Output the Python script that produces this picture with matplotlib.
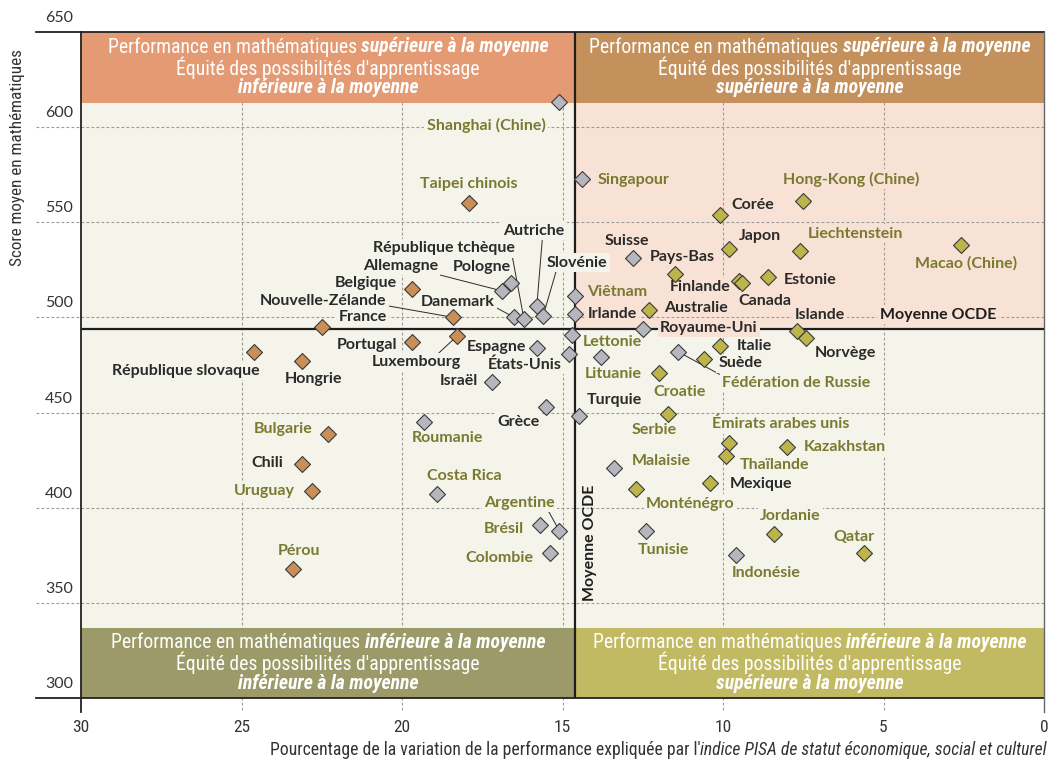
import matplotlib
matplotlib.use("Agg")
import matplotlib.pyplot as plt
import matplotlib.transforms as mtransforms
from matplotlib import font_manager as fm
from matplotlib.patches import Rectangle

# ---------------- data ----------------
countries = [
    "Shanghai (Chine)", "Singapour", "Hong-Kong (Chine)", "Taipei chinois", "Corée",
    "Macao (Chine)", "Japon", "Liechtenstein", "Suisse", "Pays-Bas",
    "Estonie", "Finlande", "Canada", "Pologne", "Belgique",
    "Allemagne", "Viêtnam", "Autriche", "Australie", "Irlande",
    "Slovénie", "Danemark", "Nouvelle-Zélande", "République tchèque", "France",
    "Royaume-Uni", "Islande", "Lettonie", "Luxembourg", "Norvège",
    "Portugal", "Italie", "Espagne", "Fédération de Russie", "République slovaque",
    "États-Unis", "Lituanie", "Suède", "Hongrie", "Croatie",
    "Israël", "Grèce", "Serbie", "Turquie", "Roumanie",
    "Bulgarie", "Émirats arabes unis", "Kazakhstan", "Thaïlande", "Chili",
    "Malaisie", "Mexique", "Monténégro", "Uruguay", "Costa Rica",
    "Brésil", "Argentine", "Tunisie", "Jordanie", "Colombie",
    "Qatar", "Indonésie", "Pérou",
]
esc_pct = [
    15.1, 14.4, 7.5, 17.9, 10.1,
    2.6, 9.8, 7.6, 12.8, 11.5,
    8.6, 9.5, 9.4, 16.6, 19.7,
    16.9, 14.6, 15.8, 12.3, 14.6,
    15.6, 16.5, 18.4, 16.2, 22.5,
    12.5, 7.7, 14.7, 18.3, 7.4,
    19.7, 10.1, 15.8, 11.4, 24.6,
    14.8, 13.8, 10.6, 23.1, 12.0,
    17.2, 15.5, 11.7, 14.5, 19.3,
    22.3, 9.8, 8.0, 9.9, 23.1,
    13.4, 10.4, 12.7, 22.8, 18.9,
    15.7, 15.1, 12.4, 8.4, 15.4,
    5.6, 9.6, 23.4,
]
math_score = [
    613, 573, 561, 560, 554,
    538, 536, 535, 531, 523,
    521, 519, 518, 518, 515,
    514, 511, 506, 504, 502,
    501, 500, 500, 499, 495,
    494, 493, 491, 490, 489,
    487, 485, 484, 482, 482,
    481, 479, 478, 477, 471,
    466, 453, 449, 448, 445,
    439, 434, 432, 427, 423,
    421, 413, 410, 409, 407,
    391, 388, 388, 386, 376,
    376, 375, 368,
]
# strength of the socio-economic gradient vs OECD average
equity_group = [
    "ns", "ns", "weak", "strong", "weak",
    "weak", "weak", "weak", "ns", "weak",
    "weak", "weak", "weak", "ns", "strong",
    "ns", "ns", "ns", "weak", "ns",
    "ns", "ns", "strong", "ns", "strong",
    "ns", "weak", "ns", "strong", "weak",
    "strong", "weak", "ns", "ns", "strong",
    "ns", "ns", "weak", "strong", "weak",
    "ns", "ns", "weak", "ns", "ns",
    "strong", "weak", "weak", "weak", "strong",
    "ns", "weak", "weak", "strong", "ns",
    "ns", "ns", "ns", "weak", "ns",
    "weak", "ns", "strong",
]
oecd_members = {
    "Corée", "Japon", "Suisse", "Pays-Bas", "Estonie", "Finlande", "Canada",
    "Pologne", "Belgique", "Allemagne", "Autriche", "Australie", "Irlande",
    "Slovénie", "Danemark", "Nouvelle-Zélande", "République tchèque", "France",
    "Royaume-Uni", "Islande", "Luxembourg", "Norvège", "Portugal", "Italie",
    "Espagne", "République slovaque", "États-Unis", "Suède", "Hongrie",
    "Israël", "Grèce", "Turquie", "Chili", "Mexique",
}
oecd_mean_score = 494
oecd_mean_esc = 14.6
x_ticks = [30, 25, 20, 15, 10, 5, 0]
y_ticks = [300, 350, 400, 450, 500, 550, 600, 650]

# ---------------- label layout (pixel offsets from marker, y down) ----------------
LAYOUT = {
    "Shanghai (Chine)": (-73, 23, None), "Singapour": (52, 1, None),
    "Hong-Kong (Chine)": (48, -22, None), "Taipei chinois": (-1, -19, None),
    "Corée": (33, -10, None), "Macao (Chine)": (6, 18, None),
    "Japon": (31, -13, None), "Liechtenstein": (55, -17, None),
    "Suisse": (-6, -17, None), "Pays-Bas": (7, -17, None),
    "Estonie": (42, 3, None), "Finlande": (-39, 6, None),
    "Canada": (23, 18, None), "Pologne": (-29, -16, None),
    "Belgique": (-46, -6, None), "Allemagne": (-101, -25, (0.91, 0.0)),
    "Viêtnam": (42, -4, None), "Autriche": (-3, -75, (0.64, 0.0)),
    "Australie": (47, -2, None), "Irlande": (37, 0, None),
    "Slovénie": (34, -53, (0.16, 0.0)), "Danemark": (-57, -15, (1.0, 0.2)),
    "Nouvelle-Zélande": (-130, -16, (1.0, 0.2)),
    "République tchèque": (-80, -71, (0.98, 0.0)),
    "France": (41, -10, None), "Royaume-Uni": (66, -1, None),
    "Islande": (23, -16, None), "Lettonie": (40, 7, None),
    "Luxembourg": (-40, 26, (0.72, 1.0)), "Norvège": (39, 15, None),
    "Portugal": (-45, 3, None), "Italie": (35, 0, None),
    "Espagne": (-40, -1, None), "Fédération de Russie": (118, 31, (0.0, 1.0)),
    "République slovaque": (-69, 19, None), "États-Unis": (-44, 11, None),
    "Lituanie": (12, 17, None), "Suède": (37, 4, None),
    "Hongrie": (11, 18, None), "Croatie": (21, 19, None),
    "Israël": (-33, -1, None), "Grèce": (-28, 15, None),
    "Serbie": (-14, 16, None), "Turquie": (36, -16, None),
    "Roumanie": (23, 16, None), "Bulgarie": (-45, -5, None),
    "Émirats arabes unis": (51, -19, None), "Kazakhstan": (58, 0, None),
    "Thaïlande": (48, 9, None), "Chili": (-35, -1, None),
    "Malaisie": (47, -7, None), "Mexique": (51, 1, None),
    "Monténégro": (54, 15, None), "Uruguay": (-48, 0, None),
    "Costa Rica": (27, -18, None), "Brésil": (-36, 4, None),
    "Argentine": (-40, -28, (0.9, 0.0)), "Tunisie": (17, 19, None),
    "Jordanie": (16, -18, None), "Colombie": (-50, 5, None),
    "Qatar": (-10, -16, None), "Indonésie": (30, 18, None),
    "Pérou": (6, -18, None),
}

# ---------------- styles ----------------
CREAM = "#F4F4EA"
PINK = "#F8E2D6"
BAND_TL, BAND_TR = "#E49A73", "#C4915C"
BAND_BL, BAND_BR = "#9B9A68", "#C2BA62"
MK = {"strong": "#C98F57", "ns": "#B6B7BE", "weak": "#BDB54B"}
TXT_DARK = "#2A2A2A"
TXT_OLIVE = "#7A7930"
GRID = "#9A9A9A"

names = {f.name for f in fm.fontManager.ttflist}
COND = None
for cand in ["Liberation Sans Narrow", "Roboto Condensed", "Open Sans Condensed",
             "Noto Sans Condensed", "DejaVu Sans Condensed"]:
    if cand in names:
        COND = dict(family=cand)
        break
if COND is None:
    if any(f.name == "DejaVu Sans" and "condensed" in str(f.stretch) for f in fm.fontManager.ttflist):
        COND = dict(family="DejaVu Sans", stretch="condensed")
    else:
        COND = dict(family="DejaVu Sans")
LABEL_FONT = dict(family="Lato", weight="bold", size=11.5)

W, H = 1049, 761
fig = plt.figure(figsize=(W / 100, H / 100), dpi=100)
fig.patch.set_facecolor("white")
ax = fig.add_axes([81 / W, 1 - 698 / H, (1044 - 81) / W, (698 - 32) / H])
ax.set_xlim(30, 0)
ax.set_ylim(300, 650)
ax.axis("off")

px_per_y = 666 / 350.0
band_top = 650 - 71 / px_per_y
band_bot = 300 + 70 / px_per_y

# backgrounds
ax.add_patch(Rectangle((0, 300), 30, 350, fc=CREAM, ec="none", zorder=0))
ax.add_patch(Rectangle((0, oecd_mean_score), oecd_mean_esc, band_top - oecd_mean_score,
                       fc=PINK, ec="none", zorder=0.5))

# gridlines
for v in y_ticks[1:-1]:
    ax.plot([-45 / 963, 1], [v, v], transform=ax.get_yaxis_transform(), color=GRID,
            lw=0.8, dashes=(2.5, 2), clip_on=False, zorder=1)
for v in x_ticks[1:-1]:
    ax.plot([v, v], [-12 / 666, 1], transform=ax.get_xaxis_transform(), color=GRID,
            lw=0.8, dashes=(2.5, 2), clip_on=False, zorder=1)

# bands
ax.add_patch(Rectangle((oecd_mean_esc, band_top), 30 - oecd_mean_esc, 650 - band_top, fc=BAND_TL, ec="none", zorder=2))
ax.add_patch(Rectangle((0, band_top), oecd_mean_esc, 650 - band_top, fc=BAND_TR, ec="none", zorder=2))
ax.add_patch(Rectangle((oecd_mean_esc, 300), 30 - oecd_mean_esc, band_bot - 300, fc=BAND_BL, ec="none", zorder=2))
ax.add_patch(Rectangle((0, 300), oecd_mean_esc, band_bot - 300, fc=BAND_BR, ec="none", zorder=2))

# frame
ax.plot([-45 / 963, 1], [1, 1], transform=ax.transAxes, color="#222222", lw=1.3, clip_on=False, zorder=3)
ax.plot([-45 / 963, 1], [0, 0], transform=ax.transAxes, color="#222222", lw=1.3, clip_on=False, zorder=3)
ax.plot([0, 0], [-14 / 666, 1], transform=ax.transAxes, color="#222222", lw=1.3, clip_on=False, zorder=3)
ax.plot([1, 1], [-14 / 666, 1], transform=ax.transAxes, color="#666666", lw=1.0, clip_on=False, zorder=3)

# OECD mean lines
ax.axhline(oecd_mean_score, color="#1E1E1E", lw=1.6, zorder=3)
ax.axvline(oecd_mean_esc, color="#1E1E1E", lw=1.6, zorder=3)

# tick labels
ytr = mtransforms.offset_copy(ax.get_yaxis_transform(), fig=fig, x=-8, y=14, units="dots")
for v in y_ticks:
    ax.text(0, v, str(v), transform=ytr, ha="right", va="center", fontsize=11.5,
            family="Lato", color="#333333")
for v in x_ticks:
    ax.text(v, -30 / 666, str(v), transform=ax.get_xaxis_transform(), ha="center", va="center",
            fontsize=12.5, color="#333333", clip_on=False, **COND)

# markers
for grp in ["strong", "ns", "weak"]:
    xs = [x for x, g in zip(esc_pct, equity_group) if g == grp]
    ys = [y for y, g in zip(math_score, equity_group) if g == grp]
    ax.scatter(xs, ys, marker="D", s=66, c=MK[grp], edgecolors="#3A3A3A", linewidths=0.8, zorder=6)

fig.canvas.draw()
renderer = fig.canvas.get_renderer()


def text_w(s, **kw):
    t = fig.text(0, 0, s, **kw)
    w = t.get_window_extent(renderer).width
    t.remove()
    return w


# labels
vx = ax.transData.transform((oecd_mean_esc, oecd_mean_score))
vtop = ax.transData.transform((0, band_top))[1]
for name, x, y in zip(countries, esc_pct, math_score):
    dx, dy, rel = LAYOUT[name]
    mx, my = ax.transData.transform((x, y))
    tx, ty = mx + dx, my - dy
    left = tx - text_w(name, **LABEL_FONT) / 2
    bg = PINK if (left > vx[0] and vx[1] < ty < vtop) else CREAM
    col = TXT_DARK if name in oecd_members else TXT_OLIVE
    kw = dict(xy=(x, y), xytext=(dx, -dy), textcoords="offset pixels", ha="center", va="center",
              color=col, zorder=4,
              bbox=dict(boxstyle="square,pad=0.15", fc=bg, ec="none"))
    if rel is not None:
        kw["arrowprops"] = dict(arrowstyle="-", color="#2A2A2A", lw=0.7, relpos=rel,
                                shrinkA=0, shrinkB=3)
    ax.annotate(name, **kw, **LABEL_FONT)

# OECD mean labels
ax.annotate("Moyenne OCDE", xy=(3.3, oecd_mean_score), xytext=(0, 14), textcoords="offset pixels",
            ha="center", va="center", color="#1E1E1E", zorder=4,
            bbox=dict(boxstyle="square,pad=0.15", fc=PINK, ec="none"), **LABEL_FONT)
ax.annotate("Moyenne OCDE", xy=(oecd_mean_esc, 381.5), xytext=(15, 0), textcoords="offset pixels",
            ha="center", va="center", rotation=90, color="#1E1E1E", zorder=4, **LABEL_FONT)


def mixed_line(parts, cx, cy, color, size, align="center", sep=True):
    # parts: list of (string, style) ; cx, cy in display pixels
    widths = [text_w(s, fontsize=size, **COND, **st) for s, st in parts]
    sp = (text_w("x x", fontsize=size, **COND) - text_w("xx", fontsize=size, **COND)) if sep else 0
    total = sum(widths) + sp * (len(parts) - 1)
    x0 = cx - total / 2 if align == "center" else cx - total
    for (s, st), w in zip(parts, widths):
        fig.text(x0 / W, cy / H, s, ha="left", va="center", fontsize=size, color=color,
                 zorder=10, **COND, **st)
        x0 += w + sp


REG = dict()
BI = dict(weight="bold", style="italic")
IT = dict(style="italic")

head_lines = {
    "TL": ("supérieure à la moyenne", "inférieure à la moyenne"),
    "TR": ("supérieure à la moyenne", "supérieure à la moyenne"),
    "BL": ("inférieure à la moyenne", "inférieure à la moyenne"),
    "BR": ("inférieure à la moyenne", "supérieure à la moyenne"),
}
band_geo = {
    "TL": ((30 + oecd_mean_esc) / 2, (band_top + 650) / 2),
    "TR": (oecd_mean_esc / 2, (band_top + 650) / 2),
    "BL": ((30 + oecd_mean_esc) / 2, (band_bot + 300) / 2),
    "BR": (oecd_mean_esc / 2, (band_bot + 300) / 2),
}
for key, (l1, l3) in head_lines.items():
    cx, cy = ax.transData.transform(band_geo[key])
    mixed_line([("Performance en mathématiques", REG), (l1, BI)], cx, cy + 20.5, "white", 14.2)
    mixed_line([("Équité des possibilités d'apprentissage", REG)], cx, cy, "white", 14.2)
    mixed_line([(l3, BI)], cx, cy - 20.5, "white", 14.2)

# axis titles
mixed_line([("Pourcentage de la variation de la performance expliquée par l'", REG),
            ("indice PISA de statut économique, social et culturel", IT)],
           1047, H - 750, "#333333", 12.7, align="right", sep=False)
fig.text(18 / W, 1 - 157 / H, "Score moyen en mathématiques", rotation=90, ha="center", va="center",
         fontsize=12.3, color="#333333", **COND)

fig.savefig("out.png", dpi=100)
